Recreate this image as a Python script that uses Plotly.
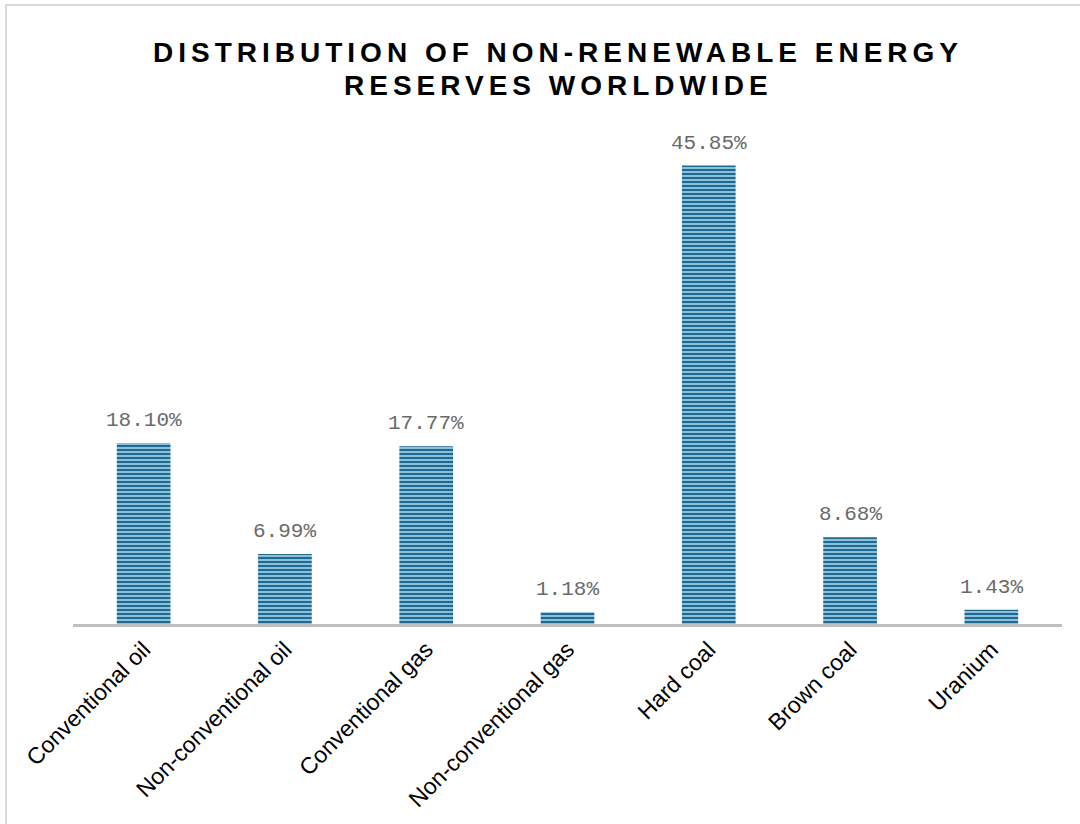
import plotly.graph_objects as go

categories = ["Conventional oil", "Non-conventional oil", "Conventional gas",
              "Non-conventional gas", "Hard coal", "Brown coal", "Uranium"]
shares = [18.10, 6.99, 17.77, 1.18, 45.85, 8.68, 1.43]
title_lines = ["DISTRIBUTION OF NON-RENEWABLE ENERGY", "RESERVES WORLDWIDE"]

W, H = 1080, 824
ml, mr, mt, mb = 73, 18, 124, 200
pw, ph = W - ml - mr, H - mt - mb

fig = go.Figure()
fig.add_trace(go.Bar(
    x=categories, y=shares,
    marker=dict(color="#8cc0d8", line=dict(width=0),
                pattern=dict(shape="-", fgcolor="#1f6a93", bgcolor="#8cc0d8",
                             size=4, solidity=0.5, fillmode="replace")),
    hoverinfo="x+y",
))

annotations = []
for c, v in zip(categories, shares):
    annotations.append(dict(
        x=c, y=v, xref="x", yref="y", text=f"{v:.2f}%", showarrow=False,
        yanchor="bottom", yshift=9,
        font=dict(family="Liberation Mono, Courier New, monospace", size=21, color="#6a6a6a"),
    ))

for i, line in enumerate(title_lines):
    annotations.append(dict(
        x=(558 - ml) / pw, xref="paper", y=1 + (mt - (52 + 34 * i)) / ph, yref="paper",
        xanchor="center", yanchor="middle", showarrow=False,
        text=f'<b><span style="letter-spacing:5px">{line}</span></b>',
        font=dict(family="Liberation Sans, Arial, sans-serif", size=28, color="black"),
    ))

fig.update_layout(
    width=W, height=H,
    margin=dict(l=ml, r=mr, t=mt, b=mb),
    paper_bgcolor="white", plot_bgcolor="white",
    bargap=0.62,
    showlegend=False,
    annotations=annotations,
    xaxis=dict(
        showline=True, linecolor="#bfbfbf", linewidth=3,
        showgrid=False, ticks="", tickangle=-45,
        tickfont=dict(family="Liberation Sans, Arial, sans-serif", size=23, color="black"),
    ),
    yaxis=dict(range=[0, 50], visible=False, showgrid=False),
    shapes=[dict(
        type="rect", xref="paper", yref="paper",
        x0=(6 - ml) / pw, x1=(W + 10 - ml) / pw,
        y0=-(mb + 10) / ph, y1=1 + (mt - 5) / ph,
        line=dict(color="#d9d9d9", width=2), fillcolor="rgba(0,0,0,0)", layer="below",
    )],
)

fig.write_html("out.html")
